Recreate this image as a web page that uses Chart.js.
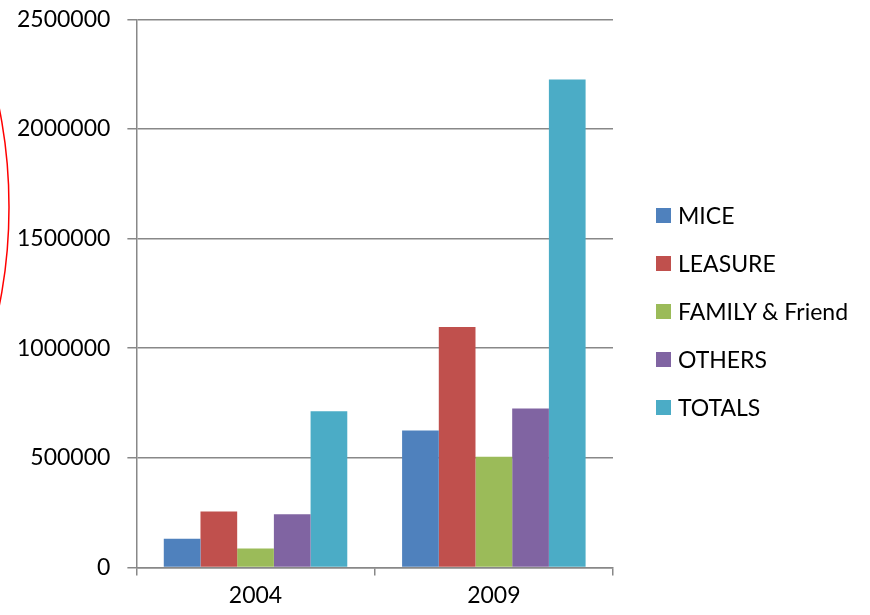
<!DOCTYPE html>
<html>
<head>
<meta charset="utf-8">
<script src="https://cdn.jsdelivr.net/npm/chart.js@4/dist/chart.umd.min.js"></script>
<style>
  html, body { margin: 0; padding: 0; background: #fff; }
  #wrap { position: relative; width: 870px; height: 615px; }
  #legend { position: absolute; left: 656px; top: 201px; font-family: Lato, "Liberation Sans", sans-serif; font-size: 23px; color: #000; }
  #legend .item { display: flex; align-items: center; height: 28px; margin-bottom: 20px; }
  #legend .box { width: 15px; height: 15px; margin-right: 7px; }
</style>
</head>
<body>
<div id="wrap">
  <canvas id="visitChart" width="870" height="615"></canvas>
  <div id="legend"></div>
</div>
<script>
  const years = ["2004", "2009"];
  const mice = [131000, 625000];
  const leasure = [255000, 1096000];
  const family = [86000, 505000];
  const others = [242000, 725000];
  const totals = [712000, 2225000];
  const yTicks = [0, 500000, 1000000, 1500000, 2000000, 2500000];

  const seriesNames = ["MICE", "LEASURE", "FAMILY & Friend", "OTHERS", "TOTALS"];
  const seriesColors = ["#4F81BD", "#C0504D", "#9BBB59", "#8064A2", "#4BACC6"];
  const seriesData = [mice, leasure, family, others, totals];

  const gridColor = "#888888";

  // the red marker ring around the upper axis labels
  const ringPlugin = {
    id: "ring",
    afterDraw(chart) {
      const ctx = chart.ctx;
      ctx.save();
      ctx.strokeStyle = "#ff0000";
      ctx.lineWidth = 1.5;
      ctx.beginPath();
      ctx.ellipse(-92, 207, 101, 230, 0, 0, Math.PI * 2);
      ctx.stroke();
      ctx.restore();
    }
  };

  var ctx = document.getElementById("visitChart").getContext("2d");
  var chart = new Chart(ctx, {
    type: "bar",
    data: {
      labels: years,
      datasets: seriesNames.map((name, i) => ({
        label: name,
        data: seriesData[i],
        backgroundColor: seriesColors[i],
        borderWidth: 0,
        categoryPercentage: 0.77,
        barPercentage: 1.0
      }))
    },
    options: {
      responsive: false,
      animation: false,
      layout: { padding: { left: 0, top: 0, right: 257, bottom: 0 } },
      plugins: {
        legend: { display: false },
        tooltip: { enabled: false }
      },
      scales: {
        x: {
          grid: {
            offset: true,
            drawOnChartArea: false,
            drawTicks: true,
            tickLength: 8,
            color: gridColor,
            lineWidth: 1.5
          },
          border: { color: gridColor, width: 1.5 },
          ticks: {
            color: "#000",
            padding: 6,
            font: { family: "Lato", size: 23 }
          }
        },
        y: {
          min: 0,
          max: 2500000,
          afterBuildTicks: (axis) => {
            axis.ticks = yTicks.map(v => ({ value: v }));
          },
          grid: {
            color: gridColor,
            lineWidth: 1.5,
            tickLength: 9
          },
          border: { color: gridColor, width: 1.5 },
          ticks: {
            color: "#000",
            padding: 17,
            // small line height keeps the top label from pushing the plot down
            font: { family: "Lato", size: 23, lineHeight: 0.2 },
            callback: (v) => String(v)
          }
        }
      }
    },
    plugins: [ringPlugin]
  });

  // legend list on the right, built from the datasets
  function loadLegend(chart) {
    const legend = document.getElementById("legend");
    chart.data.datasets.forEach((ds) => {
      const item = document.createElement("div");
      item.className = "item";
      const box = document.createElement("span");
      box.className = "box";
      box.style.background = ds.backgroundColor;
      const text = document.createElement("span");
      text.textContent = ds.label;
      item.appendChild(box);
      item.appendChild(text);
      legend.appendChild(item);
    });
  }
  loadLegend(chart);
</script>
</body>
</html>
